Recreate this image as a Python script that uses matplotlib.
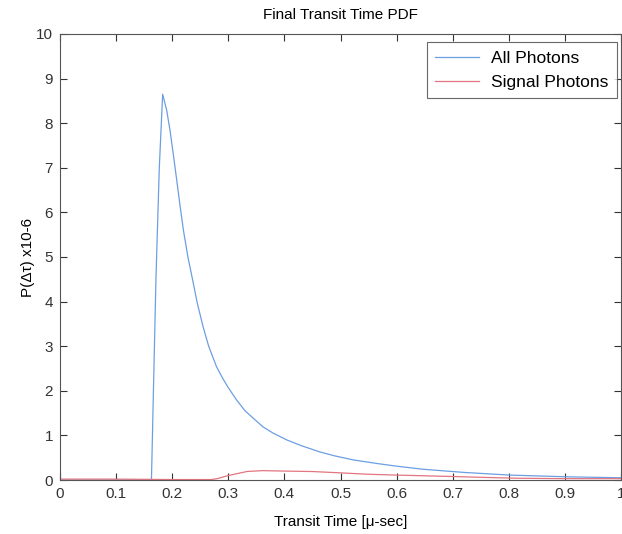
import matplotlib
matplotlib.use("Agg")
import matplotlib.pyplot as plt

plt.rcParams['font.family'] = ['Liberation Sans', 'DejaVu Sans']

# Transit time samples [micro-sec] and PDF values (x 1e-6)
t_all = [0.0, 0.163, 0.171, 0.177, 0.183, 0.190, 0.196, 0.202, 0.208, 0.214,
         0.220, 0.228, 0.2365, 0.245, 0.255, 0.265, 0.279, 0.29, 0.30, 0.315,
         0.33, 0.345, 0.362, 0.38, 0.404, 0.43, 0.463, 0.49, 0.523, 0.565,
         0.60, 0.648, 0.72, 0.802, 0.909, 1.0]
p_all = [0.0, 0.0, 4.5, 7.0, 8.65, 8.3, 7.85, 7.3, 6.73, 6.15,
         5.6, 5.0, 4.48, 3.95, 3.44, 3.0, 2.54, 2.28, 2.07, 1.79,
         1.55, 1.38, 1.19, 1.05, 0.90, 0.77, 0.63, 0.54, 0.45, 0.37,
         0.31, 0.24, 0.17, 0.11, 0.07, 0.05]

t_sig = [0.0, 0.1, 0.2, 0.27, 0.28, 0.30, 0.333, 0.36, 0.40, 0.45, 0.50,
         0.547, 0.60, 0.695, 0.75, 0.814, 0.9, 1.0]
p_sig = [0.02, 0.02, 0.01, 0.01, 0.03, 0.10, 0.19, 0.21, 0.20, 0.19, 0.16,
         0.13, 0.11, 0.08, 0.06, 0.04, 0.03, 0.03]

x_ticks = [0, 0.1, 0.2, 0.3, 0.4, 0.5, 0.6, 0.7, 0.8, 0.9, 1]
x_tick_labels = ['0', '0.1', '0.2', '0.3', '0.4', '0.5', '0.6', '0.7', '0.8', '0.9', '1']
y_ticks = list(range(0, 11))

fig = plt.figure(figsize=(6.22, 5.34), dpi=100)
ax = fig.add_axes([60 / 622, 54 / 534, 561 / 622, 446 / 534])

ax.plot(t_all, p_all, color='#6c9fe2', lw=0.9, label='All Photons')
ax.plot(t_sig, p_sig, color='#e27580', lw=0.9, label='Signal Photons')

ax.set_xlim(0, 1)
ax.set_ylim(0, 10)
ax.set_xticks(x_ticks)
ax.set_xticklabels(x_tick_labels)
ax.set_yticks(y_ticks)
ax.tick_params(direction='in', length=5, width=0.8, top=True, right=True,
               labelsize=11, colors='#333333', pad=5)
for s in ax.spines.values():
    s.set_color('#555555')
    s.set_linewidth(0.8)

ax.set_title('Final Transit Time PDF', fontsize=11, pad=11)
ax.set_xlabel('Transit Time [\u03bc-sec]', fontsize=11, labelpad=10)
ax.set_ylabel('P(\u0394\u03c4) x10-6', fontsize=11, labelpad=1)

leg = ax.legend(loc='upper right', fontsize=12.5, frameon=True, fancybox=False,
                edgecolor='#444444', handlelength=2.5, handletextpad=0.7,
                borderpad=0.5, labelspacing=0.5, borderaxespad=0,
                bbox_to_anchor=(0.993, 0.982))
leg.get_frame().set_linewidth(0.8)

fig.savefig('out.png', dpi=100)
